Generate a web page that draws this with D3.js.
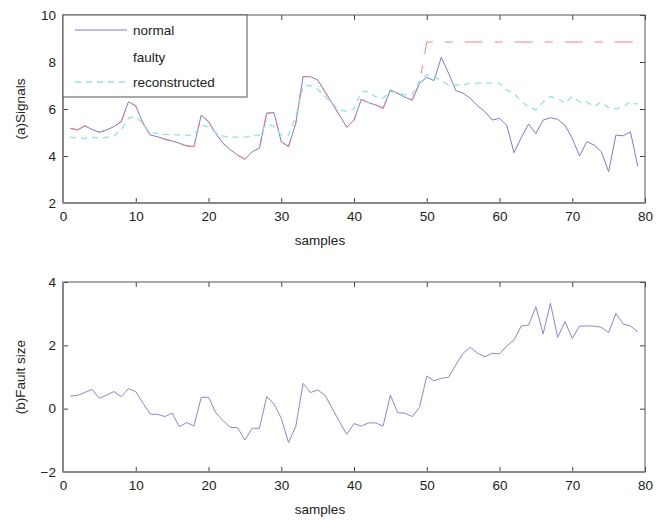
<!DOCTYPE html>
<html><head><meta charset="utf-8">
<script src="https://cdn.jsdelivr.net/npm/d3@7"></script>
<style>body{margin:0;background:#fff}svg{display:block}text{font-family:"Liberation Sans",Arial,sans-serif}</style>
</head><body>
<script>
const samples = d3.range(1, 80);
const normal = [5.18,5.11,5.28,5.13,5.01,5.11,5.25,5.46,6.31,6.13,5.39,4.89,4.82,4.71,4.64,4.54,4.43,4.40,5.74,5.46,
4.96,4.54,4.26,4.04,3.86,4.18,4.33,5.82,5.85,4.61,4.40,5.39,7.38,7.38,7.24,6.74,6.24,5.74,5.22,5.53,
6.41,6.27,6.17,6.03,6.81,6.67,6.50,6.38,7.09,7.35,7.21,8.20,7.52,6.78,6.67,6.45,6.13,5.89,5.53,5.60,
5.31,4.14,4.79,5.36,4.96,5.53,5.63,5.56,5.31,4.75,4.00,4.61,4.47,4.18,3.33,4.89,4.86,5.03,3.57];
const faultyLevel = 8.85;
const faultStart = 50;
const faulty = normal.map((v, i) => samples[i] >= faultStart ? faultyLevel : v);
const reconstructed = [4.8,4.75,4.75,4.8,4.75,4.8,4.85,5.1,5.6,5.7,5.35,5.0,4.95,4.92,4.9,4.9,4.88,4.9,5.3,5.25,
5.0,4.85,4.8,4.8,4.8,4.85,4.9,5.39,5.25,4.89,4.89,5.67,6.95,7.0,6.85,6.53,6.24,5.96,5.9,6.0,
6.74,6.74,6.5,6.45,6.74,6.7,6.6,6.6,7.2,7.45,7.4,7.2,7.02,7.02,7.02,7.1,7.1,7.1,7.1,7.1,
6.8,6.67,6.31,6.1,5.96,6.31,6.53,6.45,6.24,6.53,6.3,6.3,6.1,6.3,6.05,6.0,6.1,6.3,6.2];
const faultSize = [0.40,0.42,0.51,0.61,0.33,0.43,0.54,0.38,0.63,0.54,0.17,-0.17,-0.18,-0.25,-0.14,-0.57,-0.44,-0.55,0.36,0.36,
-0.13,-0.38,-0.59,-0.60,-0.99,-0.62,-0.62,0.38,0.15,-0.30,-1.07,-0.56,0.80,0.51,0.59,0.43,0.01,-0.41,-0.81,-0.47,
-0.55,-0.45,-0.45,-0.55,0.43,-0.13,-0.14,-0.25,0.04,1.03,0.88,0.96,0.99,1.38,1.75,1.94,1.75,1.64,1.75,1.73,
1.98,2.17,2.61,2.64,3.22,2.36,3.33,2.25,2.75,2.22,2.61,2.61,2.61,2.57,2.40,3.01,2.67,2.61,2.43];
const xTicks = [0,10,20,30,40,50,60,70,80];
const yTicksA = [2,4,6,8,10];
const yTicksB = [-2,0,2,4];
const legendLabels = ["normal","faulty","reconstructed"];

const W = 656, H = 520;
const svg = d3.select("body").append("svg").attr("width", W).attr("height", H);
const colors = {normal:"#7878f0", faulty:"#ff6f6f", recon:"#8ae6e6", fault:"#8585f0"};
const fmt = d3.format("d");

function panel(top, bottom, yDomain, yTicks, ylabel) {
  const x = d3.scaleLinear().domain([0,80]).range([63,645]);
  const y = d3.scaleLinear().domain(yDomain).range([bottom, top]);
  const g = svg.append("g");
  const axStyle = sel => { sel.select(".domain").remove(); sel.selectAll("line").attr("stroke","#444");
    sel.selectAll("text").attr("font-size", 13.5).attr("fill","#222"); };
  g.append("g").attr("transform",`translate(0,${bottom})`)
    .call(d3.axisBottom(x).tickValues(xTicks).tickSize(-5).tickPadding(8).tickFormat(fmt)).call(axStyle);
  g.append("g").attr("transform",`translate(0,${top})`)
    .call(d3.axisTop(x).tickValues(xTicks).tickSize(-5).tickFormat("")).call(axStyle);
  g.append("g").attr("transform",`translate(63,0)`)
    .call(d3.axisLeft(y).tickValues(yTicks).tickSize(-5).tickPadding(7).tickFormat(fmt)).call(axStyle);
  g.append("g").attr("transform",`translate(645,0)`)
    .call(d3.axisRight(y).tickValues(yTicks).tickSize(-5).tickFormat("")).call(axStyle);
  g.append("rect").attr("x",63).attr("y",top).attr("width",582).attr("height",bottom-top)
    .attr("fill","none").attr("stroke","#555").attr("stroke-width",1);
  g.append("line").attr("x1",63).attr("x2",63).attr("y1",top).attr("y2",bottom).attr("stroke","#888").attr("stroke-width",2);
  g.append("line").attr("x1",63).attr("x2",645).attr("y1",bottom).attr("y2",bottom).attr("stroke","#888").attr("stroke-width",2);
  g.append("text").attr("x",320).attr("y",bottom+42).attr("text-anchor","middle").attr("font-size",13.5).attr("fill","#222").text("samples");
  g.append("text").attr("transform",`translate(25,${(top+bottom)/2}) rotate(-90)`).attr("text-anchor","middle")
    .attr("font-size",13.5).attr("fill","#222").text(ylabel);
  return {x, y, g};
}

const A = panel(15, 203, [2,10], yTicksA, "(a)Signals");
const lineA = d3.line().x((d,i)=>A.x(samples[i])).y(d=>A.y(d));
A.g.append("path").datum(normal).attr("d",lineA).attr("fill","none").attr("stroke",colors.normal).attr("stroke-width",1);
A.g.append("path").datum(faulty).attr("d",lineA).attr("fill","none").attr("stroke",colors.faulty).attr("stroke-width",0.9)
  .attr("stroke-dasharray","18,12,8,12");
A.g.append("path").datum(reconstructed).attr("d",lineA).attr("fill","none").attr("stroke",colors.recon).attr("stroke-width",1.3)
  .attr("stroke-dasharray","6,5");

// legend
const lg = A.g.append("g");
lg.append("rect").attr("x",63).attr("y",15).attr("width",184).attr("height",82).attr("fill","#fff").attr("stroke","#555").attr("stroke-width",1);
const ly = [30, 57, 82];
lg.append("line").attr("x1",75).attr("x2",127).attr("y1",ly[0]).attr("y2",ly[0]).attr("stroke",colors.normal).attr("stroke-width",1);
lg.append("line").attr("x1",75).attr("x2",127).attr("y1",ly[2]).attr("y2",ly[2]).attr("stroke",colors.recon).attr("stroke-width",1.3).attr("stroke-dasharray","6,5");
legendLabels.forEach((t,i)=>{
  lg.append("text").attr("x",133).attr("y",ly[i]+5).attr("font-size",13.5).attr("fill","#222").text(t);
});

const B = panel(282, 472, [-2,4], yTicksB, "(b)Fault size");
const lineB = d3.line().x((d,i)=>B.x(samples[i])).y(d=>B.y(d));
B.g.append("path").datum(faultSize).attr("d",lineB).attr("fill","none").attr("stroke",colors.fault).attr("stroke-width",1);
</script>
</body></html>
